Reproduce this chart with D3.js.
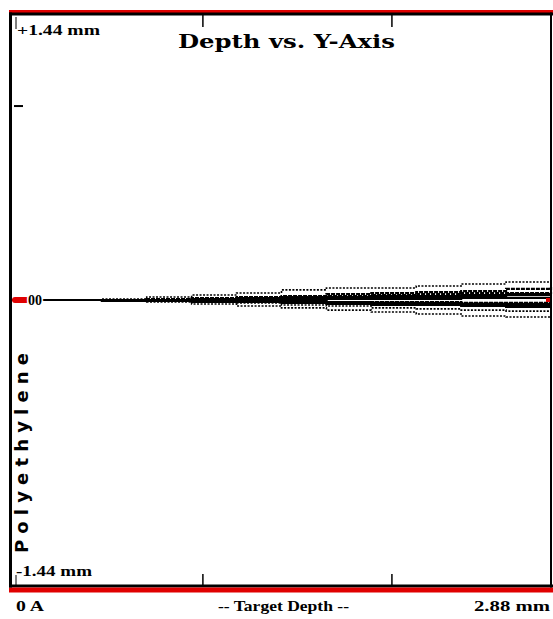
<!DOCTYPE html>
<html>
<head>
<meta charset="utf-8">
<script src="https://cdn.jsdelivr.net/npm/d3@7/dist/d3.min.js"></script>
<style>
  html, body { margin: 0; padding: 0; background: #fff; }
  svg { display: block; }
</style>
</head>
<body>
<svg id="chart" width="553" height="619"></svg>
<script>
// Target depth samples (mm) along the horizontal axis
const depths = [0, 0.24, 0.48, 0.72, 0.96, 1.20, 1.44, 1.68, 1.92, 2.16, 2.40, 2.64, 2.88];

// Y-axis deviation (mm) of each traced path at the depths above
const trace1  = [0, 0, 0.005, 0.015, 0.025, 0.035, 0.051, 0.061, 0.061, 0.071, 0.081, 0.091, 0.106];
const trace2  = [0, 0, -0.005, -0.010, -0.020, -0.030, -0.040, -0.051, -0.061, -0.071, -0.081, -0.086, -0.091];
const trace3  = [0, 0, -0.005, -0.005, -0.010, -0.015, -0.025, -0.030, -0.040, -0.045, -0.051, -0.056, -0.061];
const trace4  = [0, 0, 0, 0.005, 0.005, 0.010, 0.015, 0.020, 0.025, 0.030, 0.035, 0.035, 0.040];
const trace5  = [0, 0, 0, 0, 0.005, 0.005, 0.010, 0.010, 0.015, 0.015, 0.020, 0.025, 0.025];
const trace6  = [0, 0, 0, 0, 0, 0, 0, 0.005, 0.005, 0.005, 0.010, 0.010, 0.010];
const trace7  = [0, 0, 0, 0, -0.005, -0.005, -0.005, -0.010, -0.010, -0.010, -0.015, -0.015, -0.015];
const trace8  = [0, 0, 0, -0.005, -0.005, -0.010, -0.010, -0.015, -0.015, -0.020, -0.020, -0.025, -0.025];
const trace9  = [0, 0, -0.005, -0.005, -0.010, -0.010, -0.015, -0.020, -0.025, -0.025, -0.030, -0.035, -0.035];
const trace10 = [0, 0, 0, 0.005, 0.010, 0.015, 0.020, 0.030, 0.035, 0.040, 0.045, 0.056, 0.066];
const trace11 = [0, 0, 0, 0, 0.005, 0.010, 0.010, 0.015, 0.020, 0.020, 0.025, 0.030, 0.030];
const trace12 = [0, 0, 0, 0, 0, -0.005, -0.010, -0.010, -0.015, -0.015, -0.020, -0.020, -0.020];
const traces = [trace1, trace2, trace3, trace4, trace5, trace6, trace7, trace8, trace9, trace10, trace11, trace12];

// Axis ticks and labels
const xTicks = [1.02, 2.03];
const yTicks = [0.98];
const title = "Depth vs. Y-Axis";
const material = "Polyethylene";
const yTopLabel = "+1.44 mm";
const yBottomLabel = "-1.44 mm";
const zeroLabel = "00";
const xLabels = ["0 A", "-- Target Depth --", "2.88 mm"];

const svg = d3.select("#chart");
const plotLeft = 12, plotRight = 551, plotTop = 15, plotBottom = 585;

const x = d3.scaleLinear().domain([0, 2.88]).range([plotLeft, plotRight]);
const y = d3.scaleLinear().domain([-1.44, 1.44]).range([plotBottom, plotTop]);

// Plot frame: red/black rails top and bottom, black sides
svg.append("rect").attr("x", 9).attr("y", 10).attr("width", 544).attr("height", 3).attr("fill", "#e00000");
svg.append("rect").attr("x", 9).attr("y", 12.5).attr("width", 544).attr("height", 3).attr("fill", "#000");
svg.append("rect").attr("x", 9).attr("y", 584.5).attr("width", 544).attr("height", 3).attr("fill", "#000");
svg.append("rect").attr("x", 9).attr("y", 587.5).attr("width", 544).attr("height", 5).attr("fill", "#e00000");
svg.append("rect").attr("x", 9).attr("y", 12.5).attr("width", 3).attr("height", 575).attr("fill", "#000");
svg.append("rect").attr("x", 550).attr("y", 12.5).attr("width", 2).attr("height", 575).attr("fill", "#000");

// Tick marks along top, bottom and left side
const tickG = svg.append("g").attr("stroke", "#000").attr("stroke-width", 1.5);
xTicks.forEach(t => {
  tickG.append("line").attr("x1", x(t)).attr("x2", x(t)).attr("y1", plotTop).attr("y2", plotTop + 12);
  tickG.append("line").attr("x1", x(t)).attr("x2", x(t)).attr("y1", plotBottom - 11).attr("y2", plotBottom);
});
yTicks.forEach(t => {
  tickG.append("line").attr("x1", plotLeft + 2).attr("x2", plotLeft + 11).attr("y1", y(t)).attr("y2", y(t)).attr("stroke-width", 2);
});
// small corner ticks at the origin depth
tickG.append("line").attr("x1", 16).attr("x2", 16).attr("y1", plotTop + 2).attr("y2", plotTop + 14).attr("stroke-width", 1);
tickG.append("line").attr("x1", 16).attr("x2", 16).attr("y1", plotBottom - 10).attr("y2", plotBottom).attr("stroke-width", 1);

// Traced paths: outer envelopes dotted, inner paths dense and solid
const line = d3.line()
  .x((d, i) => x(depths[i]))
  .y(d => y(d))
  .curve(d3.curveStepAfter);

const plot = svg.append("g");
traces.forEach((tr, k) => {
  const outer = k < 3;
  plot.append("path")
    .datum(tr)
    .attr("d", line)
    .attr("fill", "none")
    .attr("stroke", "#000")
    .attr("stroke-width", outer ? 1.6 : 2.2)
    .attr("stroke-dasharray", outer ? "2,1.5" : (k % 3 === 0 ? "4,1" : null));
});

// Red start marker and end marker at the zero line
svg.append("rect").attr("x", 12).attr("y", y(0) - 3).attr("width", 17).attr("height", 6).attr("rx", 3).attr("fill", "#e00000");
svg.append("rect").attr("x", x(2.88) - 5).attr("y", y(0) - 2).attr("width", 4).attr("height", 4).attr("fill", "#e00000");

// Text
const serif = "'Liberation Serif', 'Times New Roman', serif";
svg.append("text").attr("x", 178).attr("y", 48)
  .attr("font-family", "'DejaVu Serif', serif").attr("font-weight", "bold").attr("font-size", 19)
  .attr("textLength", 217).attr("lengthAdjust", "spacingAndGlyphs")
  .text(title);

svg.append("text").attr("x", 17).attr("y", 35)
  .attr("font-family", serif).attr("font-weight", "bold").attr("font-size", 15)
  .attr("textLength", 83).attr("lengthAdjust", "spacingAndGlyphs")
  .text(yTopLabel);

svg.append("text").attr("x", 16).attr("y", 576)
  .attr("font-family", serif).attr("font-weight", "bold").attr("font-size", 15)
  .attr("textLength", 76).attr("lengthAdjust", "spacingAndGlyphs")
  .text(yBottomLabel);

svg.append("text").attr("x", 28).attr("y", y(0) + 5)
  .attr("font-family", serif).attr("font-weight", "bold").attr("font-size", 14)
  .attr("stroke", "#fff").attr("stroke-width", 3).attr("paint-order", "stroke")
  .text(zeroLabel);

svg.append("text")
  .attr("transform", "translate(28,553) rotate(-90)")
  .attr("font-family", "'DejaVu Sans', sans-serif").attr("font-weight", "bold").attr("font-size", 18)
  .attr("textLength", 200).attr("lengthAdjust", "spacing")
  .text(material);

const xLabelPos = [[16, 28], [218, 131], [474, 76]];
xLabels.forEach((s, i) => {
  svg.append("text").attr("x", xLabelPos[i][0]).attr("y", 611)
    .attr("font-family", serif).attr("font-weight", "bold").attr("font-size", 15)
    .attr("textLength", xLabelPos[i][1]).attr("lengthAdjust", "spacingAndGlyphs")
    .text(s);
});
</script>
</body>
</html>
